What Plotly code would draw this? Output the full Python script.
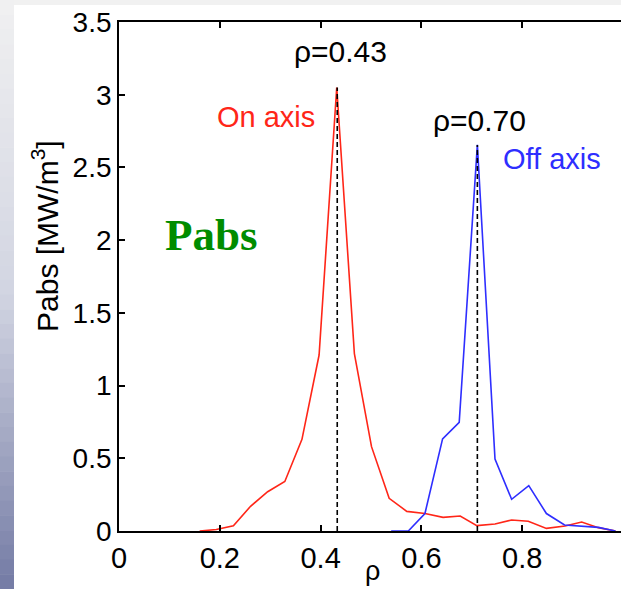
import plotly.graph_objects as go

# ---- data ----
on_rho = [0.16, 0.193, 0.227, 0.261, 0.295, 0.329, 0.363, 0.397, 0.432, 0.467, 0.501, 0.536,
          0.571, 0.607, 0.643, 0.677, 0.71, 0.746, 0.779, 0.812, 0.848, 0.885, 0.918, 0.951, 0.985]
on_pabs = [0.0, 0.01, 0.036, 0.17, 0.27, 0.34, 0.63, 1.21, 3.05, 1.22, 0.58, 0.225,
           0.135, 0.12, 0.094, 0.103, 0.037, 0.048, 0.076, 0.067, 0.018, 0.034, 0.062, 0.023, 0.0]
off_rho = [0.54, 0.574, 0.607, 0.642, 0.675, 0.711, 0.746, 0.779, 0.813, 0.848, 0.884, 0.918, 0.951, 0.985]
off_pabs = [0.0, 0.0, 0.12, 0.633, 0.747, 2.655, 0.495, 0.218, 0.312, 0.12, 0.041, 0.034, 0.025, 0.0]
peak_on = (0.433, 3.05)
peak_off = (0.711, 2.655)
x_ticks = [0, 0.2, 0.4, 0.6, 0.8]
x_tick_labels = ["0", "0.2", "0.4", "0.6", "0.8"]
y_ticks = [0, 0.5, 1, 1.5, 2, 2.5, 3, 3.5]
y_tick_labels = ["0", "0.5", "1", "1.5", "2", "2.5", "3", "3.5"]

RED = "#ff2618"
BLUE = "#2e2eff"
SANS = "Liberation Sans, Arial, Helvetica, sans-serif"

W, H = 621, 589
ML, MR, MT, MB = 119, 0, 22, 58
PW, PH = W - ML - MR, H - MT - MB

fig = go.Figure()
fig.add_trace(go.Scatter(x=on_rho, y=on_pabs, mode="lines", line=dict(color=RED, width=1.6),
                         showlegend=False, hoverinfo="skip"))
fig.add_trace(go.Scatter(x=off_rho, y=off_pabs, mode="lines", line=dict(color=BLUE, width=1.6),
                         showlegend=False, hoverinfo="skip"))
for px, py in (peak_on, peak_off):
    fig.add_trace(go.Scatter(x=[px, px], y=[0, py], mode="lines",
                             line=dict(color="black", width=1.6, dash="5px,3px"),
                             showlegend=False, hoverinfo="skip"))

# background slide decoration (left gradient strip and top strip)
shapes = []
def px_to_paper_x(p):
    return (p - ML) / PW
def px_to_paper_y(p):
    return (H - MB - p) / PH

n = 40
c0 = (240, 240, 241)
c1 = (210, 213, 226)
c2 = (118, 125, 166)
for i in range(n):
    t = i / (n - 1)
    if t < 0.5:
        u = t / 0.5
        c = tuple(int(c0[k] + (c1[k] - c0[k]) * u) for k in range(3))
    else:
        u = (t - 0.5) / 0.5
        c = tuple(int(c1[k] + (c2[k] - c1[k]) * u) for k in range(3))
    y_top = i * H / n
    y_bot = (i + 1) * H / n + 0.5
    shapes.append(dict(type="rect", xref="paper", yref="paper", layer="below",
                       x0=px_to_paper_x(-1), x1=px_to_paper_x(14),
                       y0=px_to_paper_y(y_bot), y1=px_to_paper_y(y_top),
                       line=dict(width=0), fillcolor="rgb(%d,%d,%d)" % c))
shapes.append(dict(type="rect", xref="paper", yref="paper", layer="below",
                   x0=px_to_paper_x(14), x1=px_to_paper_x(W + 2),
                   y0=px_to_paper_y(5), y1=px_to_paper_y(-2),
                   line=dict(width=0), fillcolor="#f1f1f1"))

def ann(text, x, y, size, color, xref="x", yref="y", family=SANS, **kw):
    return dict(text=text, x=x, y=y, xref=xref, yref=yref, showarrow=False,
                xanchor="center", yanchor="middle",
                font=dict(family=family, size=size, color=color), **kw)

annotations = [
    ann("ρ=0.43", 0.4385, 3.30, 30, "black"),
    ann("ρ=0.70", 0.715, 2.82, 30, "black"),
    ann("On axis", 0.292, 2.85, 29, RED),
    ann("Off axis", 0.859, 2.56, 29, BLUE),
    ann("<b>Pabs</b>", 0.1835, 2.036, 45, "#008c00",
        family="Liberation Serif, Times New Roman, serif"),
    ann("Pabs [MW/m<sup>3</sup>]", px_to_paper_x(45), px_to_paper_y(236), 30, "black",
        xref="paper", yref="paper", textangle=-90),
    ann("ρ", 0.502, px_to_paper_y(571), 27, "black", yref="paper"),
]

fig.update_layout(
    width=W, height=H,
    margin=dict(l=ML, r=MR, t=MT, b=MB, pad=0),
    paper_bgcolor="white", plot_bgcolor="white",
    shapes=shapes, annotations=annotations,
    xaxis=dict(range=[0, 0.996], tickvals=x_ticks, ticktext=x_tick_labels,
               ticks="inside", ticklen=6, tickwidth=1.5, tickcolor="black",
               showline=True, linecolor="black", linewidth=1.8, mirror="ticks",
               showgrid=False, zeroline=False,
               tickfont=dict(family=SANS, size=29, color="black")),
    yaxis=dict(range=[0, 3.5], tickvals=y_ticks, ticktext=y_tick_labels,
               ticks="inside", ticklen=6, tickwidth=1.5, tickcolor="black",
               showline=True, linecolor="black", linewidth=1.8,
               showgrid=False, zeroline=False,
               tickfont=dict(family=SANS, size=28, color="black")),
)

fig.write_html("out.html")
